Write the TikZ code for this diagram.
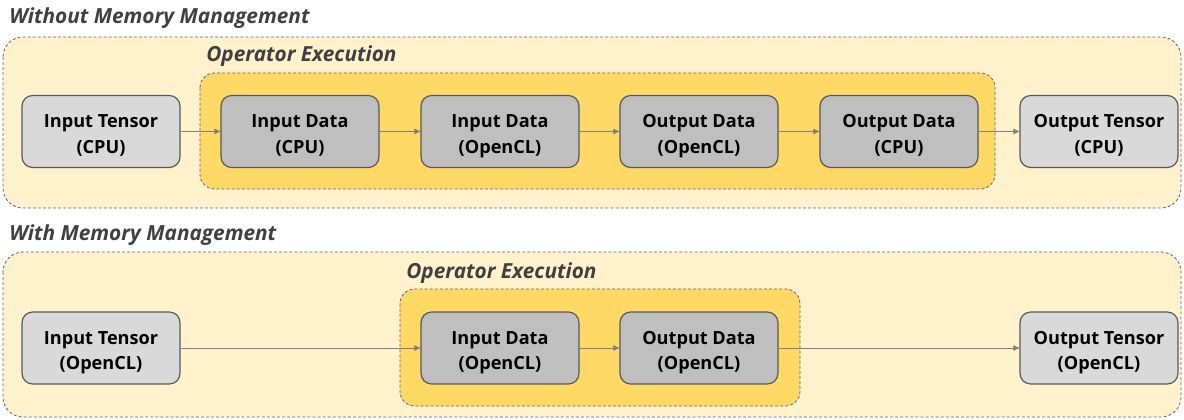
\documentclass[tikz,border=0pt]{standalone}
\usepackage{fontspec}
\setmainfont{Open Sans}
\usetikzlibrary{arrows.meta}
\definecolor{outerfill}{HTML}{FFF2CC}
\definecolor{innerfill}{HTML}{FFD966}
\definecolor{framecol}{HTML}{6B5B7B}
\definecolor{lightnode}{HTML}{D9D9D9}
\definecolor{darknode}{HTML}{BFBFBF}
\definecolor{nodeborder}{HTML}{595959}
\definecolor{arrowcol}{HTML}{7F7F7F}
\definecolor{titlecol}{HTML}{404040}
\begin{document}
\begin{tikzpicture}[x=0.75pt,y=-0.75pt,
  groupframe/.style={draw=framecol, line width=0.6pt, dash pattern=on 2.2pt off 1.6pt},
  outerbox/.style={groupframe, fill=outerfill, rounded corners=15pt},
  innerbox/.style={groupframe, fill=innerfill, rounded corners=11pt},
  databox/.style={draw=nodeborder, line width=0.9pt, rounded corners=8pt,
    minimum width=118.5pt, minimum height=54pt, inner sep=0pt, align=center,
    text height=36.3pt, text depth=3.6pt,
    font=\fontsize{13.6}{19.2}\selectfont\bfseries},
  tensorbox/.style={databox, fill=lightnode},
  kernelbox/.style={databox, fill=darknode},
  heading/.style={anchor=west, inner sep=0pt, text=titlecol,
    font=\fontsize{15.6}{18}\selectfont\bfseries\itshape},
  flow/.style={draw=arrowcol, line width=0.7pt, -{Triangle[length=4.5pt,width=4pt]}}
]
\useasboundingbox (0,0) rectangle (1184,420);

% ---- without memory management ----
\node[heading] (t1) at (9,18) {Without Memory Management};
\path[outerbox] (3,37) rectangle (1181,208);
\node[heading] (op1) at (206,56) {Operator Execution};
\path[innerbox] (200,73) rectangle (995,189);

\node[tensorbox] (a1) at (101,131.5) {Input Tensor\\(CPU)};
\node[kernelbox] (a2) at (300,131.5) {Input Data\\(CPU)};
\node[kernelbox] (a3) at (500,131.5) {Input Data\\(OpenCL)};
\node[kernelbox] (a4) at (699,131.5) {Output Data\\(OpenCL)};
\node[kernelbox] (a5) at (899,131.5) {Output Data\\(CPU)};
\node[tensorbox] (a6) at (1099,131.5) {Output Tensor\\(CPU)};

\draw[flow] (a1) -- (a2);
\draw[flow] (a2) -- (a3);
\draw[flow] (a3) -- (a4);
\draw[flow] (a4) -- (a5);
\draw[flow] (a5) -- (a6);

% ---- with memory management ----
\node[heading] (t2) at (9,235) {With Memory Management};
\path[outerbox] (3,252) rectangle (1181,417);
\node[heading] (op2) at (406,273) {Operator Execution};
\path[innerbox] (400,289) rectangle (800,406);

\node[tensorbox] (b1) at (101,348) {Input Tensor\\(OpenCL)};
\node[kernelbox] (b2) at (500,348) {Input Data\\(OpenCL)};
\node[kernelbox] (b3) at (699,348) {Output Data\\(OpenCL)};
\node[tensorbox] (b4) at (1099,348) {Output Tensor\\(OpenCL)};

\draw[flow] (b1) -- (b2);
\draw[flow] (b2) -- (b3);
\draw[flow] (b3) -- (b4);
\end{tikzpicture}
\end{document}
